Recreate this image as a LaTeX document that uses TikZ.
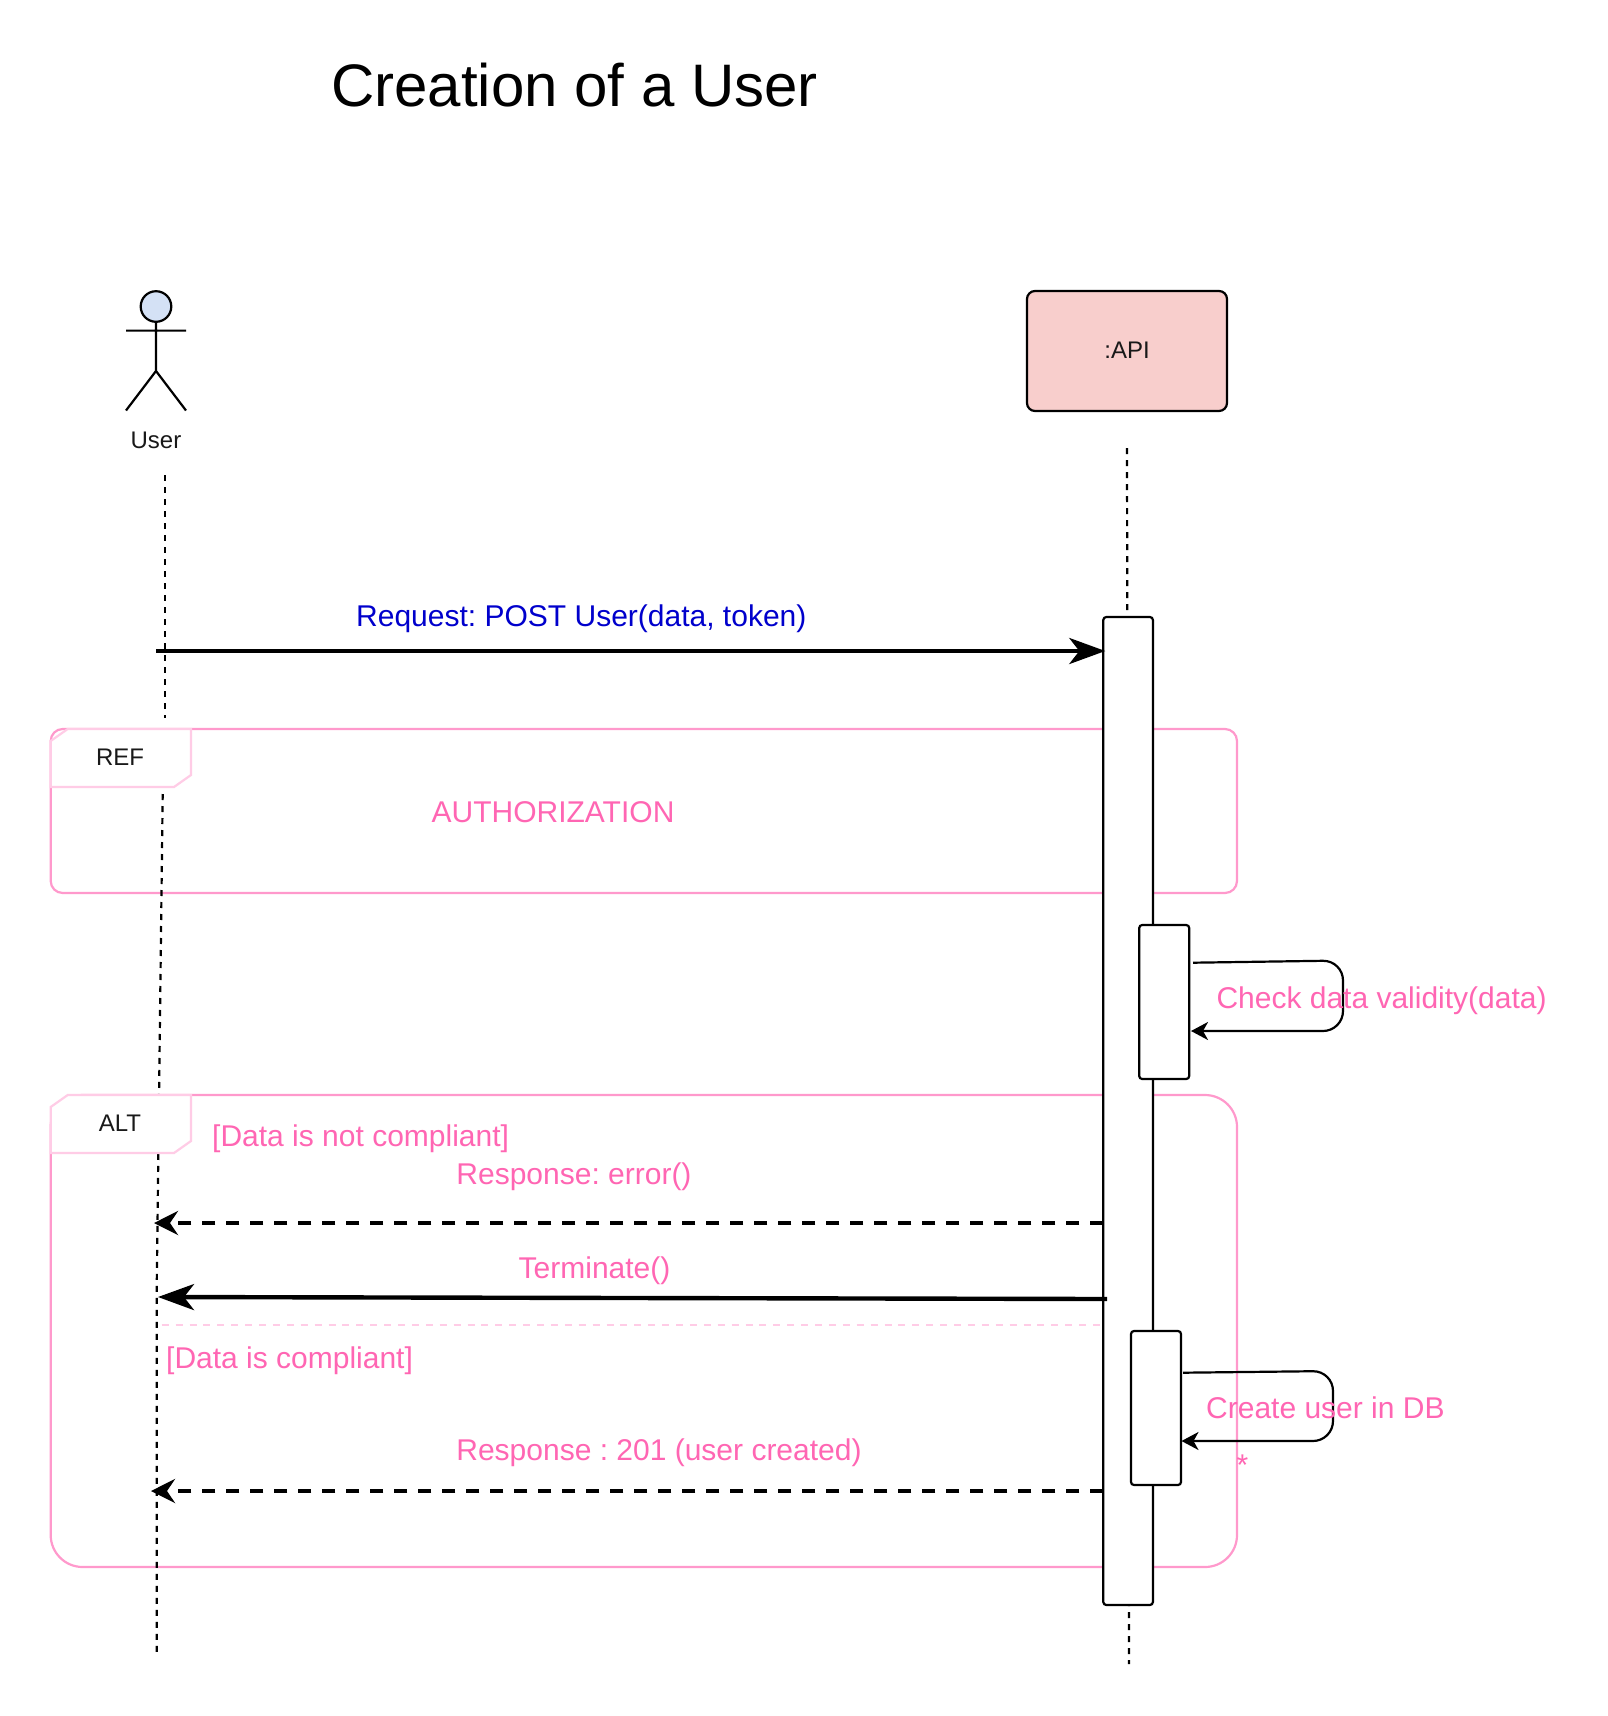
\documentclass[tikz,border=0pt]{standalone}
\usepackage{fontspec}
\setmainfont{Liberation Sans}
\usetikzlibrary{arrows.meta}
\definecolor{framepink}{HTML}{FF99CC}
\definecolor{headpink}{HTML}{FFCCE6}
\definecolor{textpink}{HTML}{FF66B3}
\definecolor{msgblue}{HTML}{0000CC}
\definecolor{apifill}{HTML}{F8CECC}
\definecolor{actorfill}{HTML}{D4E1F5}
\tikzset{
  x=1pt,y=-1pt,
  line join=round,
  box/.style={draw=black,line width=2.2pt,fill=white,rounded corners=3pt,inner sep=0pt,outer sep=0pt},
  frame/.style={draw=framepink,line width=2.2pt,inner sep=0pt,outer sep=0pt},
  head/.style={draw=headpink,line width=2.2pt,fill=white},
  life/.style={draw=black,line width=2.2pt,dash pattern=on 6pt off 6pt},
  syncmsg/.style={draw=black,line width=4.4pt,-{Stealth[length=36pt,width=26pt,inset=10pt]}},
  retmsg/.style={draw=black,line width=4.4pt,dash pattern=on 13pt off 11pt,-{Stealth[length=24pt,width=24pt,inset=8pt]}},
  selfmsg/.style={draw=black,line width=2.2pt,rounded corners=20pt,-{Stealth[length=17pt,width=18pt,inset=5pt]}},
  pinktext/.style={text=textpink,font=\fontsize{30}{36}\selectfont,inner sep=0pt,anchor=base},
  pinkleft/.style={pinktext,anchor=base west},
  blacktext/.style={text=black!90,font=\fontsize{24}{28}\selectfont,inner sep=0pt,anchor=base},
}
\begin{document}
\frenchspacing
\begin{tikzpicture}
\path[use as bounding box,fill=white] (0,0) rectangle (1608,1716);

% title
\node[inner sep=0pt,anchor=base,font=\fontsize{60}{72}\selectfont] (title) at (574.5,106) {Creation of a User};

% frames
\node[frame,rounded corners=12pt,minimum width=1186.3pt,minimum height=164pt] (refFrame) at (643.85,811) {};
\node[frame,rounded corners=32pt,minimum width=1186.3pt,minimum height=472pt] (altFrame) at (643.85,1331) {};

% lifelines
\coordinate (userTop) at (165,475);
\coordinate (userMid) at (165,718);
\coordinate (userLow) at (162.7,794);
\coordinate (userBend) at (156.7,1290);
\coordinate (userBot) at (156.7,1653);
\coordinate (apiTop) at (1127,448);
\coordinate (apiBot) at (1129,1664);
\draw[life] (userTop) -- (userMid);
\draw[life] (userLow) -- (userBend) -- (userBot);
\draw[life] (apiTop) -- (apiBot);

% frame headers
\draw[head] (50.7,741) -- (67.7,729) -- (191,729) -- (191,775) -- (174,787) -- (50.7,787) -- cycle;
\draw[head] (50.7,1107) -- (67.7,1095) -- (191,1095) -- (191,1141) -- (174,1153) -- (50.7,1153) -- cycle;
\node[blacktext] (refLabel) at (120,765) {REF};
\node[blacktext] (altLabel) at (120,1131) {ALT};

% actor
\node[circle,draw=black,line width=2.2pt,fill=actorfill,minimum size=30.6pt,inner sep=0pt,outer sep=0pt] (actorHead) at (156,306.5) {};
\coordinate (hip) at (156,371);
\coordinate (armL) at (126,330.6);
\coordinate (armR) at (186,330.6);
\coordinate (legL) at (126,410.5);
\coordinate (legR) at (186,410.5);
\draw[line width=2.2pt] (actorHead) -- (hip) (armL) -- (armR) (legL) -- (hip) -- (legR);
\node[blacktext] (userLabel) at (156,448) {User};

% API
\node[box,fill=apifill,rounded corners=8pt,minimum width=200pt,minimum height=120pt,font=\fontsize{24}{28}\selectfont,text=black!90] (api) at (1127,351) {\raisebox{1pt}{:API}};

% activations
\node[box,minimum width=49.6pt,minimum height=988pt] (main) at (1128.1,1111) {};
\node[box,minimum width=50pt,minimum height=154pt] (check) at (1164.2,1002) {};
\node[box,minimum width=50pt,minimum height=154pt] (create) at (1156,1408) {};

% alt separator
\coordinate (sepStart) at (161.7,1325);
\draw[draw=headpink,line width=2.2pt,dash pattern=on 7pt off 6.9pt] (sepStart) -- (main.west |- sepStart);

% messages
\coordinate (reqStart) at (156,651);
\draw[syncmsg] (reqStart) -- ([xshift=2pt]main.west |- reqStart);
\node[pinktext,text=msgblue] (reqLabel) at (581.3,626) {Request: POST User(data, token)};

\node[pinktext] (authLabel) at (553,822) {AUTHORIZATION};

% self message 1
\coordinate (c1a) at (1193,962.7);
\coordinate (c1b) at (1343,960.5);
\coordinate (c1c) at (1343,1031);
\coordinate (c1d) at (1191,1031);
\draw[selfmsg] (c1a) -- (c1b) -- (c1c) -- (c1d);
\node[pinkleft] (checkLabel) at (1216.3,1008) {Check data validity(data)};

% alt contents
\node[pinkleft] (notOk) at (212,1146) {[Data is not compliant]};
\coordinate (errEnd) at (154,1223);
\draw[retmsg] (main.west |- errEnd) -- (errEnd);
\node[pinktext] (errLabel) at (574,1184.5) {Response: error()};

\coordinate (termStart) at (1107,1299);
\coordinate (termEnd) at (158,1297);
\draw[syncmsg] (termStart) -- (termEnd);
\node[pinktext] (termLabel) at (594.5,1278) {Terminate()};

\node[pinkleft] (okLabel) at (166,1368) {[Data is compliant]};

\coordinate (c2a) at (1183,1372.7);
\coordinate (c2b) at (1333,1371);
\coordinate (c2c) at (1333,1441);
\coordinate (c2d) at (1181.5,1441);
\draw[selfmsg] (c2a) -- (c2b) -- (c2c) -- (c2d);
\node[pinkleft] (createLabel) at (1206,1418) {Create user in DB};
\node[pinktext] (star) at (1242.5,1475.5) {*};

\coordinate (okEnd) at (151,1491);
\draw[retmsg] (main.west |- okEnd) -- (okEnd);
\node[pinktext] (okMsg) at (659,1460) {Response : 201 (user created)};
\end{tikzpicture}
\end{document}
